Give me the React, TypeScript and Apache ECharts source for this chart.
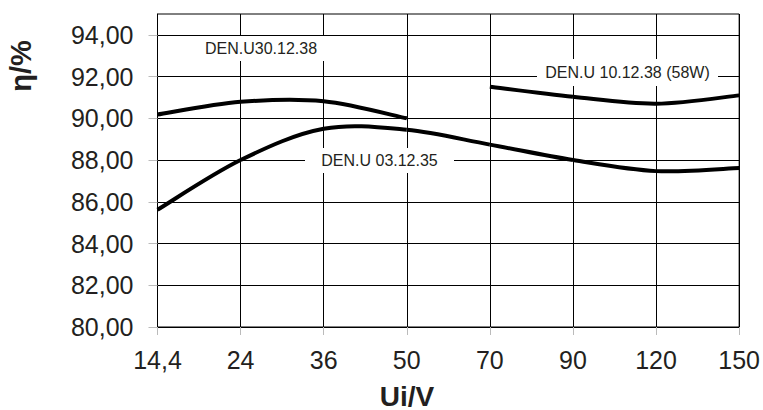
import React, { useEffect, useRef } from "react";
import * as echarts from "echarts";

const categories = ["14,4", "24", "36", "50", "70", "90", "120", "150"];
const seriesA = [90.18, 90.79, 90.82, 90.0, null, null, null, null];
const seriesB = [85.62, 88.0, 89.5, 89.45, 88.74, 88.0, 87.47, 87.62];
const seriesC = [null, null, null, null, 91.51, 91.03, 90.7, 91.1];
const yTicks = [80, 82, 84, 86, 88, 90, 92, 94];
const seriesNames = ["DEN.U30.12.38", "DEN.U 03.12.35", "DEN.U 10.12.38 (58W)"];

const FONT = "'Liberation Sans', Arial, sans-serif";
const TXT = "#231f20";

function curveSeries(name: string, values: (number | null)[]) {
  const pts: number[][] = [];
  values.forEach((v, i) => {
    if (v !== null && v !== undefined) pts.push([i, v]);
  });
  return {
    name,
    type: "custom",
    data: pts,
    encode: { x: 0, y: 1 },
    z: 5,
    renderItem: (params: any, api: any) => {
      const k = params.dataIndex;
      if (k >= pts.length - 1) return null;
      const P = (j: number) => api.coord(pts[Math.max(0, Math.min(pts.length - 1, j))]);
      const p0 = P(k - 1);
      const p1 = P(k);
      const p2 = P(k + 1);
      const p3 = P(k + 2);
      const t = 1 / 6;
      return {
        type: "bezierCurve",
        shape: {
          x1: p1[0],
          y1: p1[1],
          x2: p2[0],
          y2: p2[1],
          cpx1: p1[0] + (p2[0] - p0[0]) * t,
          cpy1: p1[1] + (p2[1] - p0[1]) * t,
          cpx2: p2[0] - (p3[0] - p1[0]) * t,
          cpy2: p2[1] - (p3[1] - p1[1]) * t,
        },
        style: { fill: "none", stroke: "#000", lineWidth: 4 },
      };
    },
  };
}

export default function App() {
  const ref = useRef<HTMLDivElement>(null);
  useEffect(() => {
    if (!ref.current) return;
    const chart = echarts.init(ref.current, undefined, { renderer: "svg" });
    const box = (cx: number, cy: number, w: number, h: number, text: string) => ({
      type: "group",
      z: 100,
      children: [
        { type: "rect", shape: { x: cx - w / 2, y: cy - h / 2, width: w, height: h }, style: { fill: "#fff" }, z: 100 },
        {
          type: "text",
          x: cx,
          y: cy,
          z: 101,
          style: { text, fill: TXT, font: `16px ${FONT}`, align: "center", verticalAlign: "middle" },
        },
      ],
    });
    chart.setOption({
      animation: false,
      backgroundColor: "#fff",
      grid: { left: 157.5, right: 23, top: 14, bottom: 83, containLabel: false, show: true, borderColor: "#000", borderWidth: 1 },
      xAxis: {
        type: "category",
        data: categories,
        boundaryGap: false,
        axisLine: { lineStyle: { color: "#000", width: 1 } },
        axisTick: { show: true, length: 8, lineStyle: { color: "#bbb" } },
        axisLabel: { fontSize: 25, color: TXT, fontFamily: FONT, margin: 20 },
        splitLine: { show: true, lineStyle: { color: "#000", width: 1 } },
      },
      yAxis: {
        type: "value",
        min: 80,
        max: 95,
        interval: 2,
        axisLine: { show: true, lineStyle: { color: "#000", width: 1 } },
        axisTick: { show: true, length: 9, lineStyle: { color: "#bbb" }, customValues: yTicks },
        axisLabel: {
          fontSize: 25,
          color: TXT,
          fontFamily: FONT,
          margin: 24,
          customValues: yTicks,
          formatter: (v: number) => v.toFixed(2).replace(".", ","),
        },
        splitLine: { show: true, lineStyle: { color: "#000", width: 1 } },
      },
      series: [
        curveSeries(seriesNames[0], seriesA),
        curveSeries(seriesNames[1], seriesB),
        curveSeries(seriesNames[2], seriesC),
      ],
      graphic: [
        box(261, 48.5, 150, 25, seriesNames[0]),
        box(379.5, 160.5, 149, 25, seriesNames[1]),
        box(627.5, 72.5, 181, 27, seriesNames[2]),
        {
          type: "text",
          x: 407,
          y: 396,
          z: 100,
          style: { text: "Ui/V", fill: TXT, font: `bold 28px ${FONT}`, align: "center", verticalAlign: "middle" },
        },
        {
          type: "text",
          x: 21,
          y: 66,
          rotation: Math.PI / 2,
          z: 100,
          style: { text: "η/%", fill: TXT, font: `bold 29px ${FONT}`, align: "center", verticalAlign: "middle" },
        },
      ],
    });
    return () => chart.dispose();
  }, []);
  return <div ref={ref} style={{ width: 763, height: 410, position: "absolute", left: 0, top: 0 }} />;
}
